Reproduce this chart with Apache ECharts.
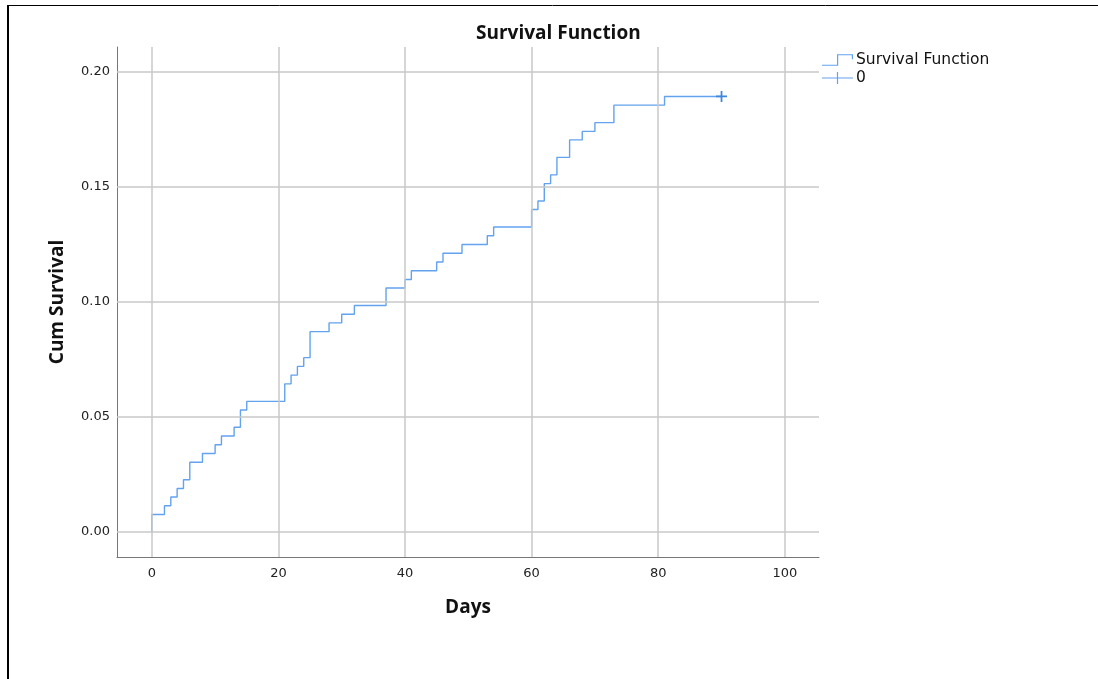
<!DOCTYPE html>
<html>
<head>
<meta charset="utf-8">
<script src="https://cdn.jsdelivr.net/npm/echarts@6/dist/echarts.min.js"></script>
<style>
html,body{margin:0;padding:0;background:#fff;}
#chart{width:1098px;height:679px;}
</style>
</head>
<body>
<div id="chart"></div>
<script>
// Kaplan-Meier style step curve
const stepDays = [0, 0, 2, 3, 4, 5, 6, 8, 10, 11, 13, 14, 15, 21, 22, 23, 24, 25, 28, 30, 32, 37, 40, 41, 45, 46, 49, 53, 54, 60, 61, 62, 63, 64, 66, 68, 70, 73, 81, 90];
const stepValues = [0, 0.0076, 0.0114, 0.0152, 0.0189, 0.0227, 0.0303, 0.0341, 0.0379, 0.0417, 0.0455, 0.0530, 0.0568, 0.0644, 0.0682, 0.0720, 0.0758, 0.0871, 0.0909, 0.0947, 0.0985, 0.1061, 0.1098, 0.1136, 0.1174, 0.1212, 0.1250, 0.1288, 0.1326, 0.1402, 0.1439, 0.1515, 0.1553, 0.1629, 0.1705, 0.1742, 0.1780, 0.1856, 0.1894, 0.1894];
const censorDays = [90];
const censorValues = [0.1894];
const xTicks = [0, 20, 40, 60, 80, 100];
const yTicks = [0, 0.05, 0.10, 0.15, 0.20];
const seriesNames = ['Survival Function', '0'];

const lineColor = '#62a2ee';
const markColor = '#3f86df';

const chart = echarts.init(document.getElementById('chart'), null, {renderer: 'canvas'});

const stepData = stepDays.map((d, i) => [d, stepValues[i]]);
const censorData = censorDays.map((d, i) => [d, censorValues[i]]);

const gridLineStyle = {color: '#c9c9c9', width: 1.5, type: 'solid'};
const gridMarks = xTicks.map(v => ({xAxis: v})).concat(yTicks.map(v => ({yAxis: v})));

const option = {
  backgroundColor: '#ffffff',
  animation: false,
  title: {
    text: 'Survival Function',
    left: 471,
    top: 19,
    textStyle: {fontFamily: 'Open Sans', fontWeight: 'bold', fontSize: 19, color: '#111'}
  },
  legend: {
    orient: 'vertical',
    left: 822,
    top: 52,
    padding: 0,
    itemWidth: 31,
    itemHeight: 12,
    itemGap: 2,
    textStyle: {fontFamily: 'DejaVu Sans', fontSize: 15.5, lineHeight: 13, color: '#111', padding: [0, 0, 0, -2]},
    data: [
      {name: seriesNames[0], icon: 'path://M0,10.5H15V0H31V5H29.8V1.2H16.2V11.7H0Z', itemStyle: {color: lineColor, borderWidth: 0}},
      {name: seriesNames[1], icon: 'path://M0,5.4H31V6.6H0Z M14.9,0H16.1V12H14.9Z', itemStyle: {color: lineColor, borderWidth: 0}}
    ]
  },
  grid: {left: 117, right: 279, top: 47, bottom: 122, containLabel: false},
  xAxis: {
    type: 'value',
    min: -5.5,
    max: 105.4,
    name: 'Days',
    nameLocation: 'middle',
    nameGap: 41,
    nameTextStyle: {fontFamily: 'Open Sans', fontWeight: 'bold', fontSize: 19, color: '#111'},
    axisLine: {show: true, onZero: false, lineStyle: {color: '#777', width: 1}},
    axisTick: {show: false, customValues: xTicks},
    axisLabel: {customValues: xTicks, margin: 10, fontFamily: 'DejaVu Sans', fontSize: 13, color: '#222'},
    splitLine: {show: false}
  },
  yAxis: {
    type: 'value',
    min: -0.0109,
    max: 0.2109,
    name: 'Cum Survival',
    nameLocation: 'middle',
    nameGap: 50,
    nameTextStyle: {fontFamily: 'Open Sans', fontWeight: 'bold', fontSize: 19, color: '#111'},
    axisLine: {show: true, onZero: false, lineStyle: {color: '#777', width: 1}},
    axisTick: {show: false, customValues: yTicks},
    axisLabel: {customValues: yTicks, margin: 7, fontFamily: 'DejaVu Sans', fontSize: 13, color: '#222',
      formatter: v => v.toFixed(2)},
    splitLine: {show: false}
  },
  series: [
    {
      name: 'grid',
      type: 'line',
      data: [],
      silent: true,
      z: 1,
      legendHoverLink: false,
      markLine: {
        silent: true,
        symbol: ['none', 'none'],
        label: {show: false},
        lineStyle: gridLineStyle,
        animation: false,
        data: gridMarks
      }
    },
    {
      name: seriesNames[0],
      type: 'line',
      step: 'end',
      data: stepData,
      showSymbol: false,
      symbol: 'none',
      z: 3,
      lineStyle: {color: lineColor, width: 1.4},
      itemStyle: {color: lineColor}
    },
    {
      name: seriesNames[1],
      type: 'scatter',
      data: censorData,
      symbol: 'path://M4.2,0H5.8V4.2H10V5.8H5.8V10H4.2V5.8H0V4.2H4.2Z',
      symbolSize: 11,
      z: 4,
      itemStyle: {color: markColor, opacity: 1}
    }
  ],
  graphic: [
    {type: 'line', shape: {x1: 8, y1: 5, x2: 8, y2: 679}, style: {stroke: '#000', lineWidth: 2}, silent: true},
    {type: 'line', shape: {x1: 7, y1: 5.5, x2: 1098, y2: 5.5}, style: {stroke: '#000', lineWidth: 1}, silent: true}
  ]
};

chart.setOption(option);
</script>
</body>
</html>
